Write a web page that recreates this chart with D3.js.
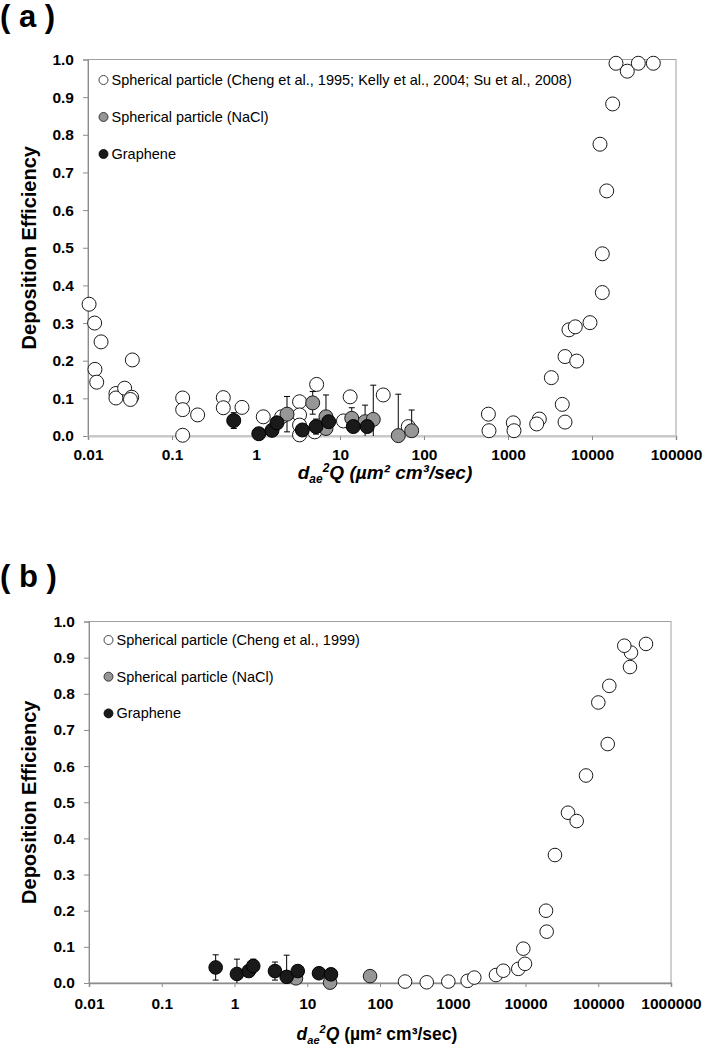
<!DOCTYPE html>
<html>
<head>
<meta charset="utf-8">
<script src="https://cdn.jsdelivr.net/npm/d3@7"></script>
<style>
  html, body { margin: 0; padding: 0; background: #fff; }
  svg { display: block; }
</style>
</head>
<body>
<svg id="chart" width="703" height="1047"></svg>
<script>
// ---------------- DATA ----------------
const yTickValues = [0, 0.1, 0.2, 0.3, 0.4, 0.5, 0.6, 0.7, 0.8, 0.9, 1.0];
const yTickLabels = ["0.0", "0.1", "0.2", "0.3", "0.4", "0.5", "0.6", "0.7", "0.8", "0.9", "1.0"];
const aXTickValues = [0.01, 0.1, 1, 10, 100, 1000, 10000, 100000];
const aXTickLabels = ["0.01", "0.1", "1", "10", "100", "1000", "10000", "100000"];
const bXTickValues = [0.01, 0.1, 1, 10, 100, 1000, 10000, 100000, 1000000];
const bXTickLabels = ["0.01", "0.1", "1", "10", "100", "1000", "10000", "100000", "1000000"];

const legendA = ["Spherical particle (Cheng et al., 1995; Kelly et al., 2004; Su et al., 2008)", "Spherical particle (NaCl)", "Graphene"];
const legendB = ["Spherical particle (Cheng et al., 1999)", "Spherical particle (NaCl)", "Graphene"];

// Panel (a): spherical particle literature data
const aSphereX = [0.0103, 0.012, 0.0143, 0.0121, 0.0127, 0.0337, 0.0215, 0.0215, 0.0273, 0.0331, 0.032,
  0.134, 0.134, 0.134, 0.202, 0.408, 0.408, 0.681, 1.22, 2.02, 3.3, 3.3, 3.3, 3.3, 5.27, 5.0, 11.0, 13.2, 32.7, 65,
  584, 594, 1156, 1178, 2361, 2198, 3282, 4428, 4774, 4774, 6578, 5321, 6324, 9465, 13270, 13270, 14970, 12450,
  17620, 19300, 26300, 35600, 53700];
const aSphereY = [0.35, 0.30, 0.25, 0.177, 0.143, 0.202, 0.113, 0.101, 0.127, 0.103, 0.097,
  0.101, 0.07, 0.002, 0.056, 0.102, 0.075, 0.076, 0.051, 0.051, 0.091, 0.056, 0.029, 0.003, 0.137, 0.011, 0.040, 0.104, 0.109, 0.025,
  0.058, 0.014, 0.035, 0.014, 0.045, 0.032, 0.155, 0.084, 0.037, 0.211, 0.199, 0.282, 0.290, 0.301, 0.381, 0.484, 0.651, 0.775,
  0.882, 0.990, 0.969, 0.990, 0.990];

// Panel (a): NaCl
const aNaclX = [2.34, 4.73, 6.81, 6.81, 13.8, 19.9, 24.9, 49.4, 71.3];
const aNaclY = [0.058, 0.088, 0.051, 0.020, 0.047, 0.038, 0.044, 0.001, 0.014];
const aNaclErr = [0.047, 0.03, 0.058, 0, 0.028, 0.044, 0.091, 0.11, 0.055];

// Panel (a): Graphene
const aGrapheneX = [0.543, 1.08, 1.55, 1.78, 3.56, 5.18, 7.33, 14.4, 21.1];
const aGrapheneY = [0.041, 0.006, 0.015, 0.035, 0.016, 0.025, 0.038, 0.025, 0.025];
const aGrapheneErr = [0.021, 0, 0, 0, 0.01, 0.02, 0, 0, 0];

// Panel (b): spherical particle (Cheng et al., 1999)
const bSphereX = [221, 439, 869, 1603, 1977, 3928, 4951, 7960, 9840, 9330, 19540, 19140, 25400, 38400, 50500, 67900,
  134900, 100200, 141900, 273000, 281600, 228000, 453000];
const bSphereY = [0.004, 0.002, 0.004, 0.006, 0.015, 0.022, 0.034, 0.039, 0.053, 0.095, 0.142, 0.200, 0.354, 0.471, 0.448, 0.574,
  0.661, 0.776, 0.822, 0.874, 0.914, 0.933, 0.938];

// Panel (b): NaCl
const bNaclX = [7.0, 20.6, 73];
const bNaclY = [0.013, 0.001, 0.019];
const bNaclErr = [0, 0, 0];

// Panel (b): Graphene
const bGrapheneX = [0.551, 1.08, 1.57, 1.81, 3.6, 5.21, 7.4, 14.5, 21.2];
const bGrapheneY = [0.043, 0.025, 0.033, 0.047, 0.033, 0.017, 0.033, 0.027, 0.024];
const bGrapheneErr = [0.035, 0.041, 0, 0.019, 0.025, 0.06, 0, 0, 0];

// ---------------- STYLE ----------------
const FONT = "'Liberation Sans', Arial, Helvetica, sans-serif";
const seriesStyle = [
  { fill: "#ffffff", stroke: "#1a1a1a" },
  { fill: "#969696", stroke: "#1a1a1a" },
  { fill: "#1a1a1a", stroke: "#000000" }
];

const svg = d3.select("#chart");

function zip(xs, ys, es) {
  return xs.map((x, i) => ({ x: x, y: ys[i], e: es ? es[i] : 0 }));
}

function drawPanel(cfg) {
  const g = svg.append("g");
  const x = d3.scaleLog().domain(cfg.xDomain).range([cfg.left, cfg.right]);
  const y = d3.scaleLinear().domain([0, 1]).range([cfg.bottom, cfg.top]);

  // plot border
  g.append("rect")
    .attr("x", cfg.left).attr("y", cfg.top)
    .attr("width", cfg.right - cfg.left).attr("height", cfg.bottom - cfg.top)
    .attr("fill", "none").attr("stroke", "#a0a0a0").attr("stroke-width", 1);

  // y axis
  const ya = g.append("g")
    .attr("transform", `translate(${cfg.left},0)`)
    .call(d3.axisLeft(y).tickValues(yTickValues).tickFormat((d, i) => yTickLabels[i]).tickSize(5).tickPadding(9));
  ya.select(".domain").attr("stroke", "#8c8c8c");
  ya.selectAll(".tick line").attr("stroke", "#8c8c8c");
  ya.selectAll(".tick text")
    .attr("font-family", FONT).attr("font-size", "15.5px").attr("font-weight", "bold").attr("fill", "#000");

  // x axis
  const xa = g.append("g")
    .attr("transform", `translate(0,${cfg.bottom})`)
    .call(d3.axisBottom(x).tickValues(cfg.xTicks).tickFormat((d, i) => cfg.xLabels[i]).tickSize(4).tickPadding(cfg.xPad));
  xa.select(".domain").attr("stroke", cfg.xAxisColor).attr("stroke-width", cfg.xAxisWidth);
  xa.selectAll(".tick line").attr("stroke", "#8c8c8c");
  xa.selectAll(".tick text")
    .attr("font-family", FONT).attr("font-size", "15.5px").attr("font-weight", "bold").attr("fill", "#000");

  // y axis title
  g.append("text")
    .attr("transform", `translate(${cfg.yTitleX},${(cfg.top + cfg.bottom) / 2}) rotate(-90)`)
    .attr("text-anchor", "middle")
    .attr("font-family", FONT).attr("font-size", "20px").attr("font-weight", "bold")
    .text("Deposition Efficiency");

  // x axis title
  const fs = cfg.xTitleSize;
  const xt = g.append("text")
    .attr("x", cfg.xTitleX).attr("y", cfg.xTitleY)
    .attr("text-anchor", "middle")
    .attr("font-family", FONT).attr("font-size", fs + "px").attr("font-weight", "bold");
  xt.append("tspan").attr("font-style", "italic").text("d");
  xt.append("tspan").attr("font-style", "italic").attr("font-size", (fs * 0.63) + "px").attr("dy", fs * 0.22).text("ae");
  xt.append("tspan").attr("font-style", "italic").attr("font-size", (fs * 0.63) + "px").attr("dy", -fs * 0.6).text("2");
  xt.append("tspan").attr("font-style", "italic").attr("dy", fs * 0.38).text("Q");
  xt.append("tspan").attr("font-style", cfg.unitItalic ? "italic" : "normal").text(" (µm² cm³/sec)");

  // panel label
  g.append("text")
    .attr("x", 0).attr("y", cfg.labelY)
    .attr("font-family", FONT).attr("font-size", "31px").attr("font-weight", "bold")
    .text(cfg.label);

  // series
  const capW = 3;
  cfg.series.forEach((pts, si) => {
    const st = seriesStyle[si];
    const sg = g.append("g");
    pts.filter(p => p.e > 0).forEach(p => {
      const lo = Math.max(p.y - p.e, 0);
      const hi = p.y + p.e;
      const cx = x(p.x);
      sg.append("line").attr("x1", cx).attr("x2", cx).attr("y1", y(lo)).attr("y2", y(hi))
        .attr("stroke", "#000").attr("stroke-width", 1);
      sg.append("line").attr("x1", cx - capW).attr("x2", cx + capW).attr("y1", y(hi)).attr("y2", y(hi))
        .attr("stroke", "#000").attr("stroke-width", 1);
      if (p.y - p.e >= 0) {
        sg.append("line").attr("x1", cx - capW).attr("x2", cx + capW).attr("y1", y(lo)).attr("y2", y(lo))
          .attr("stroke", "#000").attr("stroke-width", 1);
      }
    });
    sg.selectAll("circle").data(pts).enter().append("circle")
      .attr("cx", d => x(d.x)).attr("cy", d => y(d.y)).attr("r", cfg.r)
      .attr("fill", st.fill).attr("stroke", st.stroke).attr("stroke-width", 1);
  });

  // legend
  cfg.legend.forEach((txt, i) => {
    const st = seriesStyle[i];
    const ly = cfg.legendY + i * cfg.legendStep;
    g.append("circle").attr("cx", cfg.legendX).attr("cy", ly).attr("r", 4.5)
      .attr("fill", st.fill).attr("stroke", st.stroke).attr("stroke-width", 0.8);
    g.append("text").attr("x", cfg.legendX + 8).attr("y", ly + 5)
      .attr("font-family", FONT).attr("font-size", "14.5px").attr("fill", "#000")
      .text(txt);
  });
}

drawPanel({
  label: "( a )", labelY: 27,
  left: 88, right: 676, top: 59.5, bottom: 436,
  xDomain: [0.01, 100000], xTicks: aXTickValues, xLabels: aXTickLabels, xPad: 9,
  xAxisColor: "#c8c8c8", xAxisWidth: 2,
  yTitleX: 36, xTitleX: 385, xTitleY: 479, xTitleSize: 19, unitItalic: true,
  r: 7,
  legend: legendA, legendX: 103.5, legendY: 80, legendStep: 37,
  series: [zip(aSphereX, aSphereY), zip(aNaclX, aNaclY, aNaclErr), zip(aGrapheneX, aGrapheneY, aGrapheneErr)]
});

drawPanel({
  label: "( b )", labelY: 587,
  left: 89, right: 671, top: 621.5, bottom: 983,
  xDomain: [0.01, 1000000], xTicks: bXTickValues, xLabels: bXTickLabels, xPad: 11,
  xAxisColor: "#8c8c8c", xAxisWidth: 1.5,
  yTitleX: 36, xTitleX: 377, xTitleY: 1040, xTitleSize: 17.5, unitItalic: false,
  r: 6.8,
  legend: legendB, legendX: 108.5, legendY: 640, legendStep: 36.7,
  series: [zip(bSphereX, bSphereY), zip(bNaclX, bNaclY, bNaclErr), zip(bGrapheneX, bGrapheneY, bGrapheneErr)]
});
</script>
</body>
</html>
